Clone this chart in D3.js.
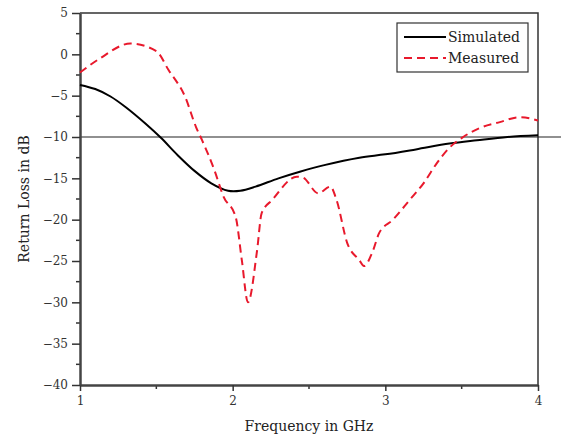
<!DOCTYPE html>
<html>
<head>
<meta charset="utf-8">
<script src="https://cdn.jsdelivr.net/npm/d3@7"></script>
<style>
  body { margin: 0; background: #fff; }
  text { font-family: "DejaVu Serif", "Liberation Serif", serif; }
</style>
</head>
<body>
<div id="wrapper"></div>
<script>
const simFreq = [1, 1.1, 1.2, 1.3, 1.43, 1.53, 1.64, 1.75, 1.86, 1.97, 2.05, 2.15, 2.3, 2.44, 2.6, 2.83, 3.0, 3.2, 3.42, 3.6, 3.8, 4.0];
const simLoss = [-3.7, -4.2, -5.1, -6.4, -8.4, -10.1, -12.2, -14.1, -15.6, -16.5, -16.5, -16.0, -15.0, -14.2, -13.4, -12.5, -12.1, -11.5, -10.8, -10.4, -10.0, -9.8];

const measFreq = [1, 1.13, 1.33, 1.5, 1.58, 1.69, 1.76, 1.8, 1.88, 1.94, 2.02, 2.06, 2.1, 2.16, 2.19, 2.26, 2.42, 2.46, 2.56, 2.64, 2.68, 2.75, 2.83, 2.86, 2.92, 2.96, 3.05, 3.16, 3.25, 3.34, 3.42, 3.51, 3.62, 3.75, 3.88, 4.0];
const measLoss = [-2.2, -0.5, 1.3, 0.4, -1.9, -5.2, -8.8, -10.4, -14.0, -17.2, -19.7, -24.9, -30.0, -23.7, -19.2, -17.6, -14.8, -14.9, -16.8, -16.0, -17.6, -22.8, -24.9, -25.6, -23.7, -21.6, -20.0, -17.6, -15.6, -13.1, -11.3, -10.0, -8.9, -8.2, -7.6, -8.0];

const xTicks = [1, 2, 3, 4];
const yTicks = [5, 0, -5, -10, -15, -20, -25, -30, -35, -40];

function drawChart() {
  const dimensions = {
    width: 561,
    height: 436,
    margin: { top: 13, right: 23, bottom: 51, left: 80 }
  };
  dimensions.boundedWidth = dimensions.width - dimensions.margin.left - dimensions.margin.right;
  dimensions.boundedHeight = dimensions.height - dimensions.margin.top - dimensions.margin.bottom;

  const wrapper = d3.select("#wrapper")
    .append("svg")
    .attr("width", dimensions.width)
    .attr("height", dimensions.height);
  const bounds = wrapper.append("g")
    .attr("transform", `translate(${dimensions.margin.left},${dimensions.margin.top})`);

  const xScale = d3.scaleLinear().domain([1, 4]).range([0, dimensions.boundedWidth]);
  const yScale = d3.scaleLinear().domain([-40, 5]).range([dimensions.boundedHeight, 0]);

  // top & right frame
  bounds.append("path")
    .attr("d", `M0,0H${dimensions.boundedWidth}V${dimensions.boundedHeight}`)
    .attr("fill", "none")
    .attr("stroke", "#333")
    .attr("stroke-width", 1.5);

  // -10 dB reference line, runs past the frame to the edge
  bounds.append("line")
    .attr("x1", 0)
    .attr("x2", dimensions.width - dimensions.margin.left)
    .attr("y1", yScale(-10))
    .attr("y2", yScale(-10))
    .attr("stroke", "#222")
    .attr("stroke-width", 1.2);

  // minor ticks
  const yMinor = d3.range(-37.5, 5, 5);
  bounds.selectAll(".yminor").data(yMinor).enter().append("line")
    .attr("x1", -4).attr("x2", 0)
    .attr("y1", d => yScale(d)).attr("y2", d => yScale(d))
    .attr("stroke", "#333").attr("stroke-width", 1.5);
  const xMinor = [1.5, 2.5, 3.5];
  bounds.selectAll(".xminor").data(xMinor).enter().append("line")
    .attr("x1", d => xScale(d)).attr("x2", d => xScale(d))
    .attr("y1", dimensions.boundedHeight).attr("y2", dimensions.boundedHeight + 4)
    .attr("stroke", "#333").attr("stroke-width", 1.5);

  const xAxisGenerator = d3.axisBottom(xScale)
    .tickValues(xTicks).tickFormat(d3.format("d"))
    .tickSize(6).tickSizeOuter(0).tickPadding(5);
  const xAxis = bounds.append("g")
    .attr("transform", `translate(0,${dimensions.boundedHeight})`)
    .call(xAxisGenerator);
  xAxis.select(".domain").attr("stroke", "#444").attr("stroke-width", 2.5);
  xAxis.selectAll(".tick line").attr("stroke", "#333").attr("stroke-width", 1.5);
  xAxis.selectAll(".tick text").attr("fill", "#333").style("font-size", "12px");

  const yAxisGenerator = d3.axisLeft(yScale).tickValues(yTicks).tickSize(8).tickSizeOuter(0).tickPadding(4);
  const yAxis = bounds.append("g").call(yAxisGenerator);
  yAxis.select(".domain").attr("stroke", "#444").attr("stroke-width", 2.5);
  yAxis.selectAll(".tick line").attr("stroke", "#333").attr("stroke-width", 1.5);
  yAxis.selectAll(".tick text").attr("fill", "#333").style("font-size", "12px");

  const simData = simFreq.map((f, i) => ({ f, v: simLoss[i] }));
  const measData = measFreq.map((f, i) => ({ f, v: measLoss[i] }));

  const simLine = d3.line()
    .x(d => xScale(d.f))
    .y(d => yScale(d.v))
    .curve(d3.curveCatmullRom.alpha(0.5));
  const measLine = d3.line()
    .x(d => xScale(d.f))
    .y(d => yScale(d.v))
    .curve(d3.curveMonotoneX);

  bounds.append("path")
    .datum(simData)
    .attr("d", simLine)
    .attr("fill", "none")
    .attr("stroke", "#000")
    .attr("stroke-width", 2);

  bounds.append("path")
    .datum(measData)
    .attr("d", measLine)
    .attr("fill", "none")
    .attr("stroke", "#e8192c")
    .attr("stroke-width", 2)
    .attr("stroke-dasharray", "8,5");

  // legend
  const legend = wrapper.append("g").attr("transform", "translate(397,23)");
  legend.append("rect")
    .attr("width", 131).attr("height", 49)
    .attr("fill", "#fff").attr("stroke", "#333").attr("stroke-width", 1.2);
  const legendItems = [
    { name: "Simulated", color: "#000", dash: null },
    { name: "Measured", color: "#e8192c", dash: "8,5" }
  ];
  legendItems.forEach((item, i) => {
    const y = 14 + i * 21;
    legend.append("line")
      .attr("x1", 7).attr("x2", 49).attr("y1", y).attr("y2", y)
      .attr("stroke", item.color).attr("stroke-width", 2)
      .attr("stroke-dasharray", item.dash);
    legend.append("text")
      .attr("x", 51).attr("y", y + 5)
      .attr("fill", "#222")
      .style("font-size", "14px")
      .text(item.name);
  });

  // axis labels
  wrapper.append("text")
    .attr("x", dimensions.margin.left + dimensions.boundedWidth / 2)
    .attr("y", 431)
    .attr("text-anchor", "middle")
    .attr("fill", "#222")
    .style("font-size", "14px")
    .text("Frequency in GHz");
  wrapper.append("text")
    .attr("transform", `translate(29,${dimensions.margin.top + dimensions.boundedHeight / 2}) rotate(-90)`)
    .attr("text-anchor", "middle")
    .attr("fill", "#222")
    .style("font-size", "14px")
    .text("Return Loss in dB");
}

drawChart();
</script>
</body>
</html>
